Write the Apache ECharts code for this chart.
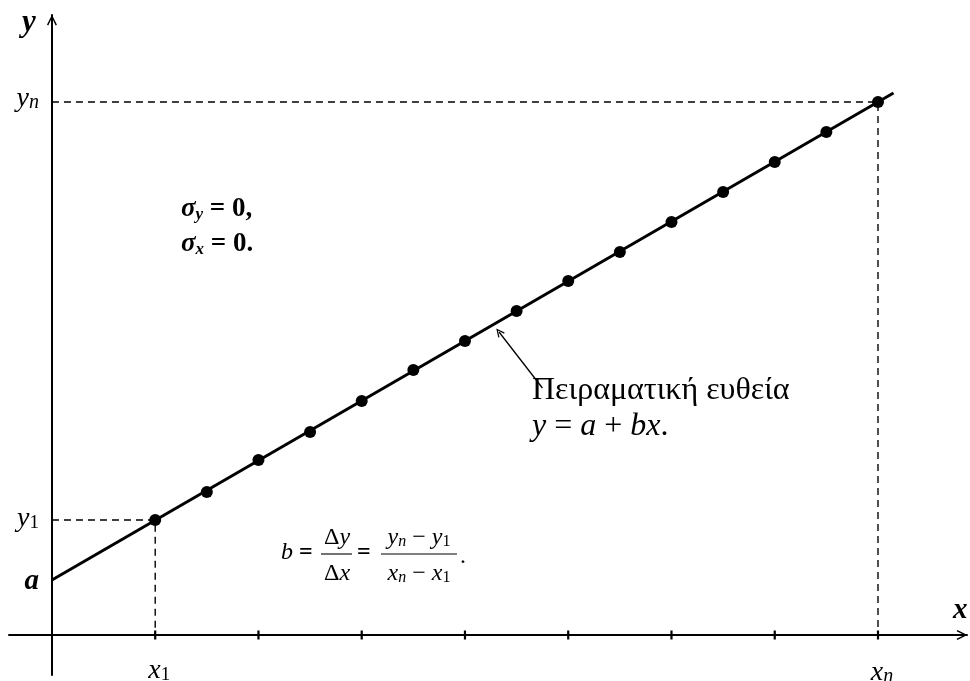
<!DOCTYPE html>
<html>
<head>
<meta charset="utf-8">
<title>Πειραματική ευθεία</title>
<script src="https://cdn.jsdelivr.net/npm/echarts@6/dist/echarts.min.js"></script>
<style>
  html, body { margin: 0; padding: 0; background: #ffffff; }
  #chart { width: 970px; height: 681px; }
</style>
</head>
<body>
<div id="chart"></div>
<script>
// Measurement points (x, y) lying on the fitted straight line
const pointX = [1, 1.5, 2, 2.5, 3, 3.5, 4, 4.5, 5, 5.5, 6, 6.5, 7, 7.5, 8];
const pointY = [1.15, 1.43, 1.75, 2.03, 2.34, 2.65, 2.94, 3.24, 3.54, 3.83, 4.13, 4.43, 4.73, 5.03, 5.33];

// Fitted line y = a + b x, drawn from the y axis a little past the last point
const interceptA = 0.55;
const fitLineX = [0, 8.15];
const fitLineY = [0.55, 5.42];

// Tick positions on the x axis and the labelled ones
const xTickValues = [1, 2, 3, 4, 5, 6, 7, 8];
const xLabelValues = [1, 8];
const xLabelTexts = ['{m|x}{one|1}', '{m|x}{n|n}'];

// Labelled values on the y axis: a, y1, yn
const yLabelValues = [0.55, 1.15, 5.33];
const yLabelTexts = ['{b|a}', '{m|y}{one|1}', '{m|y}{n|n}'];

// Pointer from the caption to the line (tail, head)
const pointerTail = [4.75, 2.47];
const pointerHead = [4.33, 3.03];

const SERIF = '"Liberation Serif", "Times New Roman", serif';
const chevron = 'path://M0,12 L6,0 L12,12 L10.4,12.9 L6,3.8 L1.6,12.9 Z';

const firstPt = [pointX[0], pointY[0]];
const lastPt = [pointX[pointX.length - 1], pointY[pointY.length - 1]];

const chart = echarts.init(document.getElementById('chart'), null, { renderer: 'canvas' });

const axisLineStyle = {
  onZero: true,
  lineStyle: { color: '#000', width: 2 },
  symbol: ['none', chevron],
  symbolSize: [10, 11],
  symbolOffset: [0, -5]
};

chart.setOption({
  backgroundColor: '#ffffff',
  animation: false,
  grid: { left: 9, right: 3, top: 15, bottom: 6, containLabel: false, outerBoundsMode: 'none' },
  xAxis: {
    type: 'value',
    min: -0.416,
    max: 8.862,
    splitLine: { show: false },
    axisTick: { show: false },
    axisLabel: { show: false },
    axisLine: axisLineStyle
  },
  yAxis: {
    type: 'value',
    min: -0.40,
    max: 6.20,
    splitLine: { show: false },
    axisTick: { show: false },
    axisLabel: { show: false },
    axisLine: axisLineStyle
  },
  series: [
    {
      // guide from y axis to the first point, then down to the x axis
      type: 'line',
      data: [[0, firstPt[1]], firstPt, [firstPt[0], 0]],
      symbol: 'none',
      lineStyle: { color: '#000', width: 1.4, type: [7, 5] },
      silent: true,
      z: 2
    },
    {
      // guide for the last point
      type: 'line',
      data: [[0, lastPt[1]], lastPt, [lastPt[0], 0]],
      symbol: 'none',
      lineStyle: { color: '#000', width: 1.4, type: [7, 5] },
      silent: true,
      z: 2
    },
    {
      // tick marks crossing the x axis
      type: 'scatter',
      data: xTickValues.map(v => [v, 0]),
      symbol: 'rect',
      symbolSize: [2.2, 9],
      itemStyle: { color: '#000', opacity: 1 },
      silent: true,
      z: 3
    },
    {
      // fitted straight line
      type: 'line',
      data: fitLineX.map((x, i) => [x, fitLineY[i]]),
      symbol: 'none',
      lineStyle: { color: '#000', width: 3 },
      silent: true,
      z: 4,
      markLine: {
        silent: true,
        symbol: ['none', chevron],
        symbolSize: [8, 9],
        label: { show: false },
        lineStyle: { color: '#000', width: 1.3, type: 'solid' },
        data: [[{ coord: pointerTail }, { coord: pointerHead }]]
      }
    },
    {
      // measured points
      type: 'scatter',
      data: pointX.map((x, i) => [x, pointY[i]]),
      symbol: 'circle',
      symbolSize: 12,
      itemStyle: { color: '#000', opacity: 1 },
      silent: true,
      z: 5
    }
  ]
});

// ---- text helpers ----
const R = (size, opt) => Object.assign({ fontFamily: SERIF, fontSize: size, color: '#000' }, opt || {});

const txt = (x, y, text, rich, extra) => ({
  type: 'text',
  x: x, y: y,
  silent: true,
  style: Object.assign({
    text: text,
    fill: '#000',
    font: '28px ' + SERIF,
    rich: rich || {},
    align: 'left',
    verticalAlign: 'middle'
  }, extra || {})
});

const bar = (x1, x2, y) => ({
  type: 'line', silent: true,
  shape: { x1: x1, y1: y, x2: x2, y2: y },
  style: { stroke: '#000', lineWidth: 1.1 }
});

// tick label styles: italic letter with a lowered subscript
const tickRich = {
  m:   R(28, { fontStyle: 'italic', lineHeight: 30, verticalAlign: 'bottom' }),
  b:   R(29, { fontStyle: 'italic', fontWeight: 'bold', lineHeight: 30, verticalAlign: 'bottom' }),
  one: R(19, { lineHeight: 13, verticalAlign: 'bottom' }),
  n:   R(20, { fontStyle: 'italic', lineHeight: 13, verticalAlign: 'bottom' })
};

const sigmaRich = {
  s:   R(27, { fontStyle: 'italic', fontWeight: 'bold', lineHeight: 30, verticalAlign: 'bottom' }),
  sub: R(17, { fontStyle: 'italic', fontWeight: 'bold', lineHeight: 12, verticalAlign: 'bottom' }),
  t:   R(27, { fontWeight: 'bold', lineHeight: 30, verticalAlign: 'bottom' })
};

const capRich = {
  u: R(32, { lineHeight: 36 }),
  i: R(32, { fontStyle: 'italic', lineHeight: 36 })
};

const fr = {
  i: R(24, { fontStyle: 'italic', lineHeight: 26, verticalAlign: 'bottom' }),
  u: R(24, { lineHeight: 26, verticalAlign: 'bottom' }),
  one: R(16, { lineHeight: 11, verticalAlign: 'bottom' }),
  n: R(16, { fontStyle: 'italic', lineHeight: 11, verticalAlign: 'bottom' }),
  eq: R(24, { fontWeight: 'bold', lineHeight: 26, verticalAlign: 'bottom' })
};

// tick labels placed through the chart's own coordinate conversion
const toPx = (x, y) => chart.convertToPixel({ gridIndex: 0 }, [x, y]);
const xLabelDrop = [35, 37];
const yLabelShift = [1, -2, -4];
const tickLabels = [];
xLabelValues.forEach((v, i) => {
  const p = toPx(v, 0);
  tickLabels.push(txt(p[0] + 4, p[1] + xLabelDrop[i], xLabelTexts[i], tickRich, { align: 'center' }));
});
yLabelValues.forEach((v, i) => {
  const p = toPx(0, v);
  tickLabels.push(txt(p[0] - 13, p[1] + yLabelShift[i], yLabelTexts[i], tickRich, { align: 'right' }));
});

chart.setOption({
  graphic: tickLabels.concat([
    txt(22, 23, 'y', null, { font: 'italic bold 31px ' + SERIF }),
    txt(953, 611, 'x', null, { font: 'italic bold 29px ' + SERIF }),

    txt(181, 208, '{s|σ}{sub|y}{t| = 0,}', sigmaRich),
    txt(181, 243, '{s|σ}{sub|x}{t| = 0.}', sigmaRich),

    txt(532, 391, '{u|Πειραματική ευθεία}', capRich),
    txt(532, 427, '{i|y}{u| = }{i|a}{u| + }{i|bx}{u|.}', capRich),

    // b = Δy/Δx = (yn − y1)/(xn − x1).
    txt(281, 552, '{i|b}{eq| =}', fr),
    txt(337, 537, '{u|Δ}{i|y}', fr, { align: 'center' }),
    bar(321, 352, 554),
    txt(337, 573, '{u|Δ}{i|x}', fr, { align: 'center' }),
    txt(357, 552, '{eq|=}', fr),
    txt(419, 537, '{i|y}{n|n}{u| − }{i|y}{one|1}', fr, { align: 'center' }),
    bar(381, 457, 554),
    txt(419, 573, '{i|x}{n|n}{u| − }{i|x}{one|1}', fr, { align: 'center' }),
    txt(460, 556, '{u|.}', fr)
  ])
});
</script>
</body>
</html>
